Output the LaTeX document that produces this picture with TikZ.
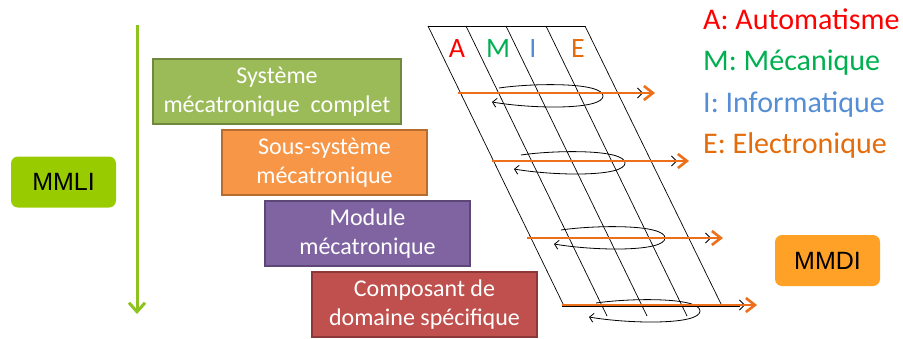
\documentclass[tikz,border=0pt]{standalone}
\usepackage{fontspec}
\setmainfont{Carlito}
\newfontfamily\arialf{Liberation Sans}
\usetikzlibrary{arrows.meta}
\definecolor{gfill}{HTML}{9BBB59}\definecolor{gdraw}{HTML}{71893F}
\definecolor{ofill}{HTML}{F79646}\definecolor{odraw}{HTML}{B66D31}
\definecolor{pfill}{HTML}{8064A2}\definecolor{pdraw}{HTML}{5C4776}
\definecolor{rfill}{HTML}{C0504D}\definecolor{rdraw}{HTML}{8C3836}
\definecolor{mmli}{HTML}{99CC00}\definecolor{mmdi}{HTML}{FFA126}
\definecolor{garrow}{HTML}{8DC21F}
\definecolor{oarrow}{HTML}{EE6F1A}
\definecolor{cA}{HTML}{FF0000}\definecolor{cM}{HTML}{00B050}
\definecolor{cI}{HTML}{558ED5}\definecolor{cE}{HTML}{E46C0A}
\tikzset{
  levelbox/.style={draw, line width=2pt, text=white, align=center, inner sep=0pt,
    minimum height=65pt, font=\fontsize{24}{29}\selectfont},
  tagbox/.style={rounded corners=7pt, inner sep=0pt, minimum width=105pt, minimum height=51pt,
    font=\arialf\fontsize{25}{28}\selectfont},
  legend/.style={anchor=base west, inner sep=0pt, font=\fontsize{30}{34}\selectfont},
  letter/.style={anchor=base, inner sep=0pt, font=\fontsize{28}{32}\selectfont},
  gridline/.style={line width=0.7pt, black},
  flow/.style={line width=2.6pt, oarrow, -{Straight Barb[length=9pt,width=14pt]}},
  flowblack/.style={line width=0.8pt, black, -{Straight Barb[length=5pt,width=10pt]}},
  loopline/.style={line width=0.8pt, black, -{Straight Barb[length=4pt,width=9pt]}},
}
\begin{document}
\begin{tikzpicture}[x=1pt,y=-1pt]
\useasboundingbox (0,0) rectangle (903,338);
% MMLI
\node[tagbox, fill=mmli] (mmli) at (63.5,182) {MMLI};
\coordinate (gtop) at (137,25);
\coordinate (gbot) at (137,314);
\draw[garrow, line width=3pt, -{Straight Barb[length=9pt,width=16pt]}] (gtop) -- (gbot);
% level boxes
\node[levelbox, fill=gfill, draw=gdraw, minimum width=248pt] (b1) at (277,91.5) {Système\\mécatronique\ \ complet};
\node[levelbox, fill=ofill, draw=odraw, minimum width=205pt] (b2) at (324.5,162.5) {Sous-système\\mécatronique};
\node[levelbox, fill=pfill, draw=pdraw, minimum width=205pt] (b3) at (367.5,233.5) {Module\\mécatronique};
\node[levelbox, fill=rfill, draw=rdraw, minimum width=225pt] (b4) at (424.5,304.5) {Composant de\\domaine spécifique};
% grid
\coordinate (t1) at (428,26); \coordinate (t5) at (585,26);
\draw[gridline] (t1) -- (t5);
\draw[gridline] (t1) -- (564,306);
\draw[gridline] (466,26) -- (607,316);
\draw[gridline] (506,26) -- (647,316);
\draw[gridline] (546,26) -- (687,316);
\draw[gridline] (t5) -- (722,306);
\draw[gridline] (562,306) -- (740,306);
% letters
\node[letter, text=cA] (la) at (457,57) {A};
\node[letter, text=cM] (lm) at (498,57) {M};
\node[letter, text=cI] (li) at (533,57) {I};
\node[letter, text=cE] (le) at (578,57) {E};
% loops
\foreach \cx/\cy in {548/96, 570/163, 610/238, 645/311}{
  \draw[loopline] (\cx-49,\cy-8) .. controls (\cx-15,\cy-13) and (\cx+55,\cy-14) .. (\cx+55,\cy)
     .. controls (\cx+55,\cy+14) and (\cx-15,\cy+13) .. (\cx-56,\cy+6);
}
% flow arrows
\foreach \n/\sx/\ex/\yy in {1/458/655/93, 2/492/689/161, 3/527/723/238, 4/562/757/305}{
  \coordinate (s\n) at (\sx,\yy);
  \coordinate (e\n) at (\ex,\yy);
  \coordinate (k\n) at (\ex-12,\yy);
  \draw[flowblack] (s\n) -- (k\n);
  \draw[flow] (s\n) -- (e\n);
}
% legend
\node[legend, text=cA] (ga) at (703,29) {A: Automatisme};
\node[legend, text=cM] (gm) at (703,70) {M: Mécanique};
\node[legend, text=cI] (gi) at (703,112) {I: Informatique};
\node[legend, text=cE] (ge) at (703,153) {E: Electronique};
% MMDI
\node[tagbox, fill=mmdi] (mmdi) at (827.5,260.5) {MMDI};
\end{tikzpicture}
\end{document}
